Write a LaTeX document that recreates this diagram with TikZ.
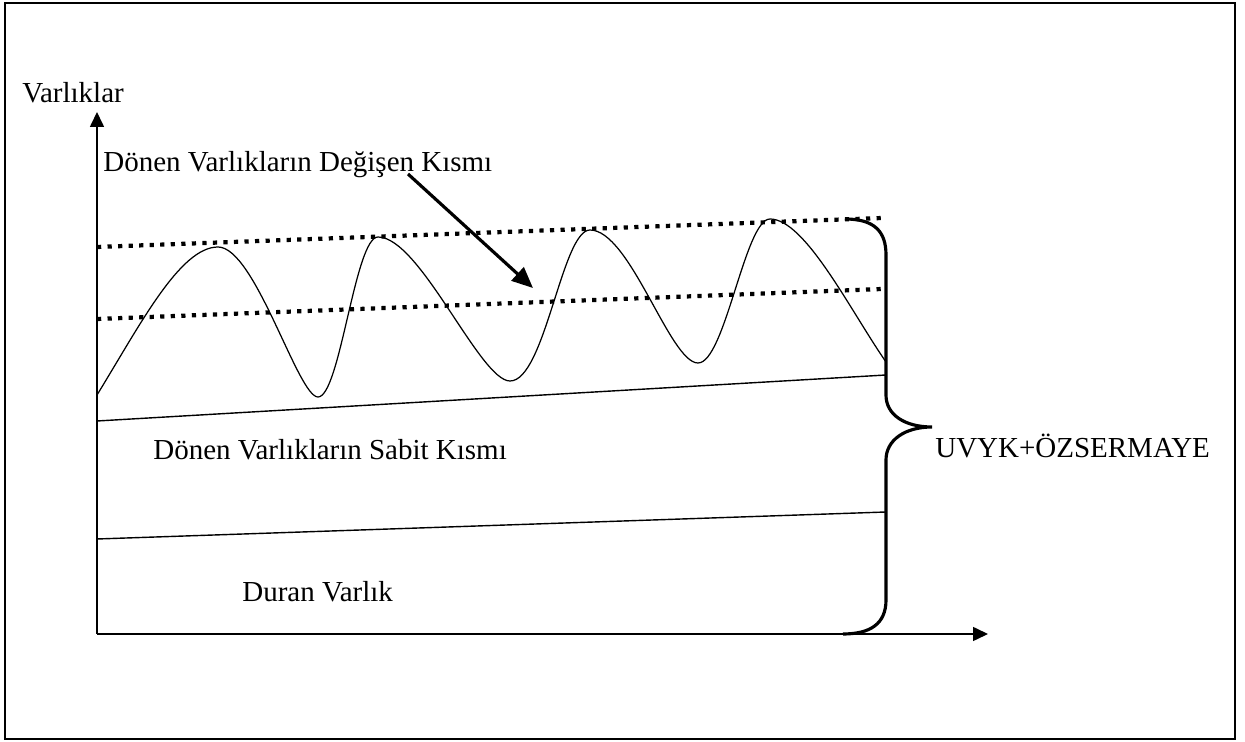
\documentclass[tikz,border=0pt]{standalone}
\usepackage{fontspec}
\setmainfont{Liberation Serif}
\usetikzlibrary{arrows.meta}
\definecolor{inkMain}{HTML}{000000}
\newcommand{\plotlabel}[1]{%
  {\fontsize{16.5pt}{19pt}\selectfont
   \color{inkMain}#1}%
}

\begin{document}
\begin{tikzpicture}[x=0.02cm,y=-0.02cm,
                    every node/.style={inner sep=0pt,anchor=base west,text=inkMain},
                    axisline/.style={draw=inkMain,line width=0.9pt,
                                     -{Triangle[length=0.3cm,width=0.28cm]}},
                    boundline/.style={draw=inkMain,line width=2.4pt,
                                      dash pattern=on 2.4pt off 3.6pt},
                    partline/.style={draw=inkMain,line width=0.8pt},
                    waveline/.style={draw=inkMain,line width=0.7pt}]
        \useasboundingbox (0,0) rectangle (1245,742);
        \draw[inkMain,line width=1.2pt] (5,3) rectangle (1235,739);
        % axes
        \coordinate (origin) at (97,634);
        \coordinate (ytip) at (97,112);
        \coordinate (xtip) at (988,634);
        \draw[axisline] (origin) -- (ytip);
        \draw[axisline] (origin) -- (xtip);
        \node (yLabel) at (22,103) {\plotlabel{Varlıklar}};
        % band borders
        \draw[partline] (97,421) -- (886,375);
        \draw[partline] (97,539) -- (886,512);
        \draw[boundline] (97,247) -- (882,218);
        \draw[boundline] (97,319) -- (882,289);
        % fluctuating part
        \draw[waveline] (97,395) .. controls (140,325) and (180,247) .. (218,247)
              .. controls (255,247) and (298,397) .. (318,397)
              .. controls (340,397) and (355,237) .. (378,237)
              .. controls (420,237) and (480,381) .. (510,381)
              .. controls (545,381) and (562,230) .. (590,230)
              .. controls (630,230) and (670,363) .. (698,363)
              .. controls (725,363) and (745,219) .. (770,219)
              .. controls (805,219) and (850,310) .. (886,362);
        % labels
        \node (varLabel) at (103,172) {\plotlabel{Dönen Varlıkların Değişen Kısmı}};
        \node (fixLabel) at (153,460) {\plotlabel{Dönen Varlıkların Sabit Kısmı}};
        \node (durLabel) at (242,602) {\plotlabel{Duran Varlık}};
        \node (fundLabel) at (935,458) {\plotlabel{UVYK+ÖZSERMAYE}};
        \coordinate (arrStart) at (408,174);
        \coordinate (arrEnd) at (533,288);
        \draw[-{Triangle[length=0.42cm,width=0.36cm]},draw=inkMain,line width=1.8pt]
              (arrStart) -- (arrEnd);
        % brace
        \draw[inkMain,line width=1.8pt]
              (845,219) .. controls (875,219) and (886,232) .. (886,255) -- (886,395)
              .. controls (886,415) and (905,427) .. (932,427)
              .. controls (905,427) and (886,440) .. (886,460) -- (886,600)
              .. controls (886,624) and (870,634) .. (843,634);
      \end{tikzpicture}
\end{document}
